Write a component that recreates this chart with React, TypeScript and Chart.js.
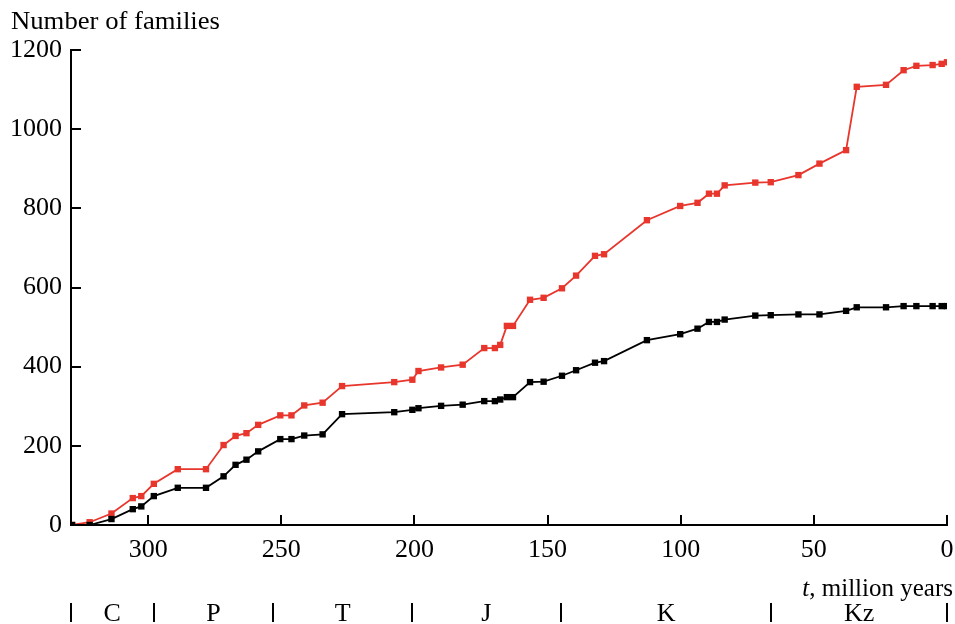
import React, { useEffect, useRef } from "react";
import { Chart, registerables } from "chart.js";

Chart.register(...registerables);

// time, million years ago
const timeMyr = [
  328.6, 322, 313.8, 305.8, 302.6, 297.9, 288.9, 278.3, 271.7, 267.2, 263.1, 258.7, 250.4, 246.2,
  241.4, 234.5, 227.2, 207.6, 200.8, 198.5, 190, 181.9, 173.8, 169.8, 167.8, 165.3, 163, 156.6,
  151.5, 144.6, 139.3, 132.2, 128.8, 112.7, 100.2, 93.7, 89.4, 86.4, 83.5, 72, 66.2, 55.8, 47.9,
  37.9, 33.9, 22.9, 16.3, 11.5, 5.4, 2, 0,
];

const blackSeries = [
  0, 0, 15, 40, 47, 73, 94, 94, 123, 152, 165, 186, 217, 217, 226, 229, 280, 285, 291, 295, 301,
  304, 313, 313, 317, 323, 323, 361, 362, 377, 391, 410, 414, 467, 482, 496, 513, 513, 519, 529,
  530, 532, 532, 541, 550, 550, 553, 553, 553, 553, 553,
];

const redSeries = [
  0, 7, 29, 68, 73, 104, 141, 141, 202, 225, 232, 253, 277, 277, 302, 309, 351, 361, 367, 389, 398,
  405, 447, 447, 455, 503, 503, 569, 574, 598, 630, 680, 684, 770, 806, 814, 837, 837, 858, 865,
  866, 884, 913, 947, 1107, 1112, 1149, 1160, 1162, 1165, 1169,
];

const xTickValues = [0, 50, 100, 150, 200, 250, 300];
const yTickValues = [0, 200, 400, 600, 800, 1000, 1200];

const periodBounds = [329, 298, 253, 201, 145, 66, 0];
const periodLabels = ["C", "P", "T", "J", "K", "Kz"];

const yTitle = "Number of families";
const xTitleItalic = "t";
const xTitleRest = ", million years";

const FONT = "'Liberation Serif', 'Times New Roman', serif";

const extrasPlugin = {
  id: "extras",
  afterDraw(chart: any) {
    const ctx = chart.ctx;
    const xs = chart.scales.x;
    const ys = chart.scales.y;
    const area = chart.chartArea;
    ctx.save();
    ctx.strokeStyle = "#000";
    ctx.lineWidth = 2;
    // inward ticks
    for (const v of yTickValues) {
      const py = Math.round(ys.getPixelForValue(v));
      ctx.beginPath();
      ctx.moveTo(area.left, py);
      ctx.lineTo(area.left + 10, py);
      ctx.stroke();
    }
    for (const v of xTickValues) {
      const px = Math.round(xs.getPixelForValue(v));
      ctx.beginPath();
      ctx.moveTo(px, area.bottom);
      ctx.lineTo(px, area.bottom - 10);
      ctx.stroke();
    }
    ctx.fillStyle = "#000";
    // y title, slightly widened like the reference type
    ctx.font = `25px ${FONT}`;
    ctx.textAlign = "left";
    ctx.textBaseline = "alphabetic";
    const titleW = ctx.measureText(yTitle).width;
    ctx.save();
    ctx.translate(11, 29);
    ctx.scale(209 / titleW, 1);
    ctx.fillText(yTitle, 0, 0);
    ctx.restore();
    // x title (right aligned)
    ctx.font = `25px ${FONT}`;
    const restW = ctx.measureText(xTitleRest).width;
    ctx.font = `italic 25px ${FONT}`;
    const tW = ctx.measureText(xTitleItalic).width;
    const right = 953;
    const baseY = 596;
    ctx.fillText(xTitleItalic, right - restW - tW, baseY);
    ctx.font = `25px ${FONT}`;
    ctx.fillText(xTitleRest, right - restW, baseY);
    // period bars
    ctx.lineWidth = 2;
    for (const b of periodBounds) {
      const px = Math.round(xs.getPixelForValue(b));
      ctx.beginPath();
      ctx.moveTo(px, 603);
      ctx.lineTo(px, 622);
      ctx.stroke();
    }
    ctx.font = `26px ${FONT}`;
    ctx.textAlign = "center";
    for (let i = 0; i < periodLabels.length; i++) {
      const a = xs.getPixelForValue(periodBounds[i]);
      const b = xs.getPixelForValue(periodBounds[i + 1]);
      ctx.fillText(periodLabels[i], (a + b) / 2, 621);
    }
    ctx.restore();
  },
};

export default function App() {
  const ref = useRef<HTMLCanvasElement>(null);
  useEffect(() => {
    document.body.style.margin = "0";
    const canvas = ref.current!;
    const chart = new Chart(canvas, {
      type: "line",
      data: {
        datasets: [
          {
            label: "black",
            data: timeMyr.map((t, i) => ({ x: t, y: blackSeries[i] })),
            borderColor: "#000000",
            backgroundColor: "#000000",
            borderWidth: 1.8,
            pointStyle: "rect",
            pointRadius: 4.5,
            pointBorderWidth: 0,
            tension: 0,
          },
          {
            label: "red",
            data: timeMyr.map((t, i) => ({ x: t, y: redSeries[i] })),
            borderColor: "#e8362c",
            backgroundColor: "#e8362c",
            borderWidth: 1.8,
            pointStyle: "rect",
            pointRadius: 4.5,
            pointBorderWidth: 0,
            tension: 0,
          },
        ],
      },
      options: {
        responsive: false,
        animation: false,
        events: [],
        layout: { padding: { top: 50, right: 8, left: 0, bottom: 0 } },
        plugins: {
          legend: { display: false },
          tooltip: { enabled: false },
        },
        scales: {
          x: {
            type: "linear",
            reverse: true,
            min: 0,
            max: 329,
            afterFit: (s: any) => {
              s.height = 99;
            },
            afterBuildTicks: (s: any) => {
              s.ticks = xTickValues.map((v) => ({ value: v }));
            },
            ticks: {
              color: "#000",
              font: { family: FONT, size: 26 },
              padding: 10,
              maxRotation: 0,
              autoSkip: false,
              callback: (v: any) => String(v),
            },
            grid: { drawOnChartArea: false, drawTicks: false },
            border: { color: "#000", width: 2 },
          },
          y: {
            min: 0,
            max: 1200,
            afterFit: (s: any) => {
              s.width = 71;
            },
            afterBuildTicks: (s: any) => {
              s.ticks = yTickValues.map((v) => ({ value: v }));
            },
            ticks: {
              color: "#000",
              font: { family: FONT, size: 26 },
              padding: 9,
              callback: (v: any) => String(v),
            },
            grid: { drawOnChartArea: false, drawTicks: false },
            border: { color: "#000", width: 2 },
          },
        },
      },
      plugins: [extrasPlugin],
    });
    return () => chart.destroy();
  }, []);
  return <canvas ref={ref} width={955} height={624} style={{ display: "block" }} />;
}
